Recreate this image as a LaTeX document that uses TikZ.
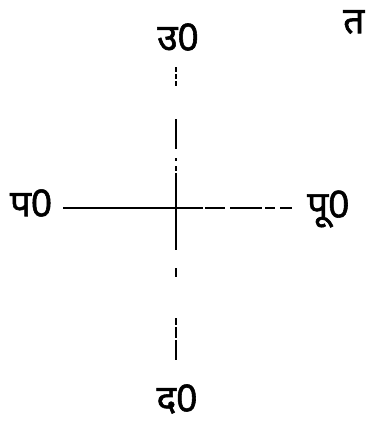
\documentclass[tikz,border=0pt]{standalone}
\usepackage{fontspec}
\newfontfamily\deva[Script=Devanagari,FakeBold=1.5]{Noto Sans}
\begin{document}
\begin{tikzpicture}[x=1pt,y=-1pt,
  lbl/.style={font=\deva\fontsize{37}{40}\selectfont, inner sep=0pt, anchor=center},
  axis/.style={line width=1.2pt, black}]
\useasboundingbox (0,0) rectangle (366,428);
\node[lbl] (n) at (178,37) {उ0};
\node[lbl] (s) at (177,399) {द0};
\node[lbl] (w) at (31,203) {प0};
\node[lbl, anchor=west] (e) at (307,209) {पू0};
\node[lbl, anchor=west] (t) at (343,22) {त};
\coordinate (c) at (176,208);
\coordinate (top) at (176,67);
\coordinate (bot) at (176,360);
\coordinate (left) at (63,208);
\coordinate (right) at (292,208);
% vertical axis, top part broken
\draw[axis, dash pattern=on 5pt off 2pt on 5pt off 2pt on 5pt off 33pt on 30pt off 9pt on 3pt off 5pt on 5pt off 2pt on 200pt] (top) -- (c);
\draw[axis, dash pattern=on 42pt off 18pt on 9pt off 41pt on 7pt off 2pt on 11pt off 2pt on 20pt] (c) -- (bot);
% horizontal axis
\draw[axis] (left) -- (c);
\draw[axis, dash pattern=on 27pt off 2pt on 20pt off 5pt on 32pt off 3pt on 10pt off 5pt on 12pt] (c) -- (right);
\end{tikzpicture}
\end{document}
